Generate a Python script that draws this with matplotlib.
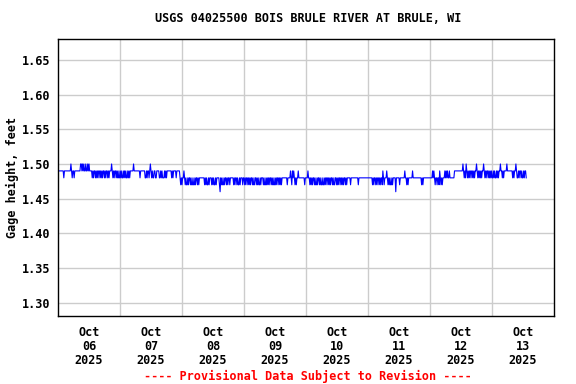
import matplotlib
matplotlib.use("Agg")
import matplotlib.pyplot as plt
import numpy as np
import pandas as pd

# Gage height readings, 15-minute interval, digit = hundredths above 1.40 ft
# ('6' = 1.46, '7' = 1.47, '8' = 1.48, '9' = 1.49, '0' = 1.50); one group per hour
oct06 = "9999 9999 9899 9999 9999 0989 9899 9999 9990 0909 0990 9909 0999 9898 9989 8989 9898 9899 8989 9898 9990 9898 9989 8988"
oct07 = "9898 8989 8988 9898 9999 9099 9999 9998 9999 9998 8989 9890 9898 8998 8999 9889 8988 8989 8999 9999 8989 9998 9999 9878"
oct08 = "7889 8787 7878 8787 7877 8788 7878 8888 8887 8787 7878 8878 7877 8788 8876 8787 7878 8787 8878 8888 7878 8787 7878 8878"
oct09 = "8787 8878 7878 8787 7887 8787 7878 8878 7787 8787 8878 7877 8787 8878 7878 8888 8887 8888 9879 8987 8788 9888 8888 8878"
oct10 = "8889 8878 7878 8787 7878 8787 7877 8787 8878 7878 8787 7887 8787 8878 7878 8787 8888 8788 8888 8888 8788 8888 8888 8888"
oct11 = "8888 8887 8788 7878 8787 8879 8788 8987 8787 7878 8886 8888 8788 8888 8988 7878 8888 8988 8888 8888 8887 8788 8888 8888"
oct12 = "8888 9898 7887 8879 8787 8889 8989 8898 8888 8899 9999 9999 9990 9898 0989 8989 9898 9899 0989 8989 8990 9898 9989 8989"
oct13 = "8898 9889 8989 9099 8989 9990 9999 9999 8989 9098 8989 9898 8989 98"

day_labels = ["Oct\n06\n2025", "Oct\n07\n2025", "Oct\n08\n2025", "Oct\n09\n2025",
              "Oct\n10\n2025", "Oct\n11\n2025", "Oct\n12\n2025", "Oct\n13\n2025"]
y_ticks = [1.30, 1.35, 1.40, 1.45, 1.50, 1.55, 1.60, 1.65]

codes = "".join((oct06 + oct07 + oct08 + oct09 + oct10 + oct11 + oct12 + oct13).split())
digit_val = {"6": 1.46, "7": 1.47, "8": 1.48, "9": 1.49, "0": 1.50}
values = np.array([digit_val[c] for c in codes])
times = pd.date_range("2025-10-06 00:00", periods=len(values), freq="15min")

mono = "DejaVu Sans Mono"
fs = 8.5
fig = plt.figure(figsize=(5.76, 3.84), dpi=100)
ax = fig.add_axes([58/576, 1-316/384, (554-58)/576, (316-39)/384])

ax.plot(times, values, color="#0000ff", linewidth=0.8)

ax.set_xlim(pd.Timestamp("2025-10-06"), pd.Timestamp("2025-10-14"))
ax.set_ylim(1.281, 1.680)

ax.set_yticks(y_ticks)
ax.set_yticklabels([f"{v:.2f}" for v in y_ticks], fontfamily=mono,
                   fontweight="bold", fontsize=fs)

major = pd.date_range("2025-10-06 12:00", periods=8, freq="D")
minor = pd.date_range("2025-10-07", periods=7, freq="D")
ax.set_xticks(major)
ax.set_xticklabels(day_labels, fontfamily=mono, fontweight="bold",
                   fontsize=fs, linespacing=1.12)
ax.set_xticks(minor, minor=True)

ax.tick_params(axis="both", which="both", length=0)
ax.tick_params(axis="x", pad=7)
ax.tick_params(axis="y", pad=5.5)
ax.grid(True, axis="y", color="#cccccc", linewidth=1)
ax.grid(True, axis="x", which="minor", color="#cccccc", linewidth=1)
ax.grid(False, axis="x", which="major")
ax.set_axisbelow(True)
for s in ax.spines.values():
    s.set_linewidth(1)
    s.set_color("black")

ax.set_ylabel("Gage height, feet", fontfamily=mono, fontweight="bold",
              fontsize=fs, va="center", ha="center")
ax.yaxis.set_label_coords((12 - 58) / 496, 0.5)

fig.text(308/576, 1-19/384, "USGS 04025500 BOIS BRULE RIVER AT BRULE, WI",
         ha="center", va="center", fontfamily=mono, fontweight="bold", fontsize=fs)
fig.text(308/576, 1-376/384, "---- Provisional Data Subject to Revision ----",
         ha="center", va="center", fontfamily=mono, fontweight="bold",
         fontsize=fs, color="#ff0000")

fig.savefig("out.png", dpi=100)
